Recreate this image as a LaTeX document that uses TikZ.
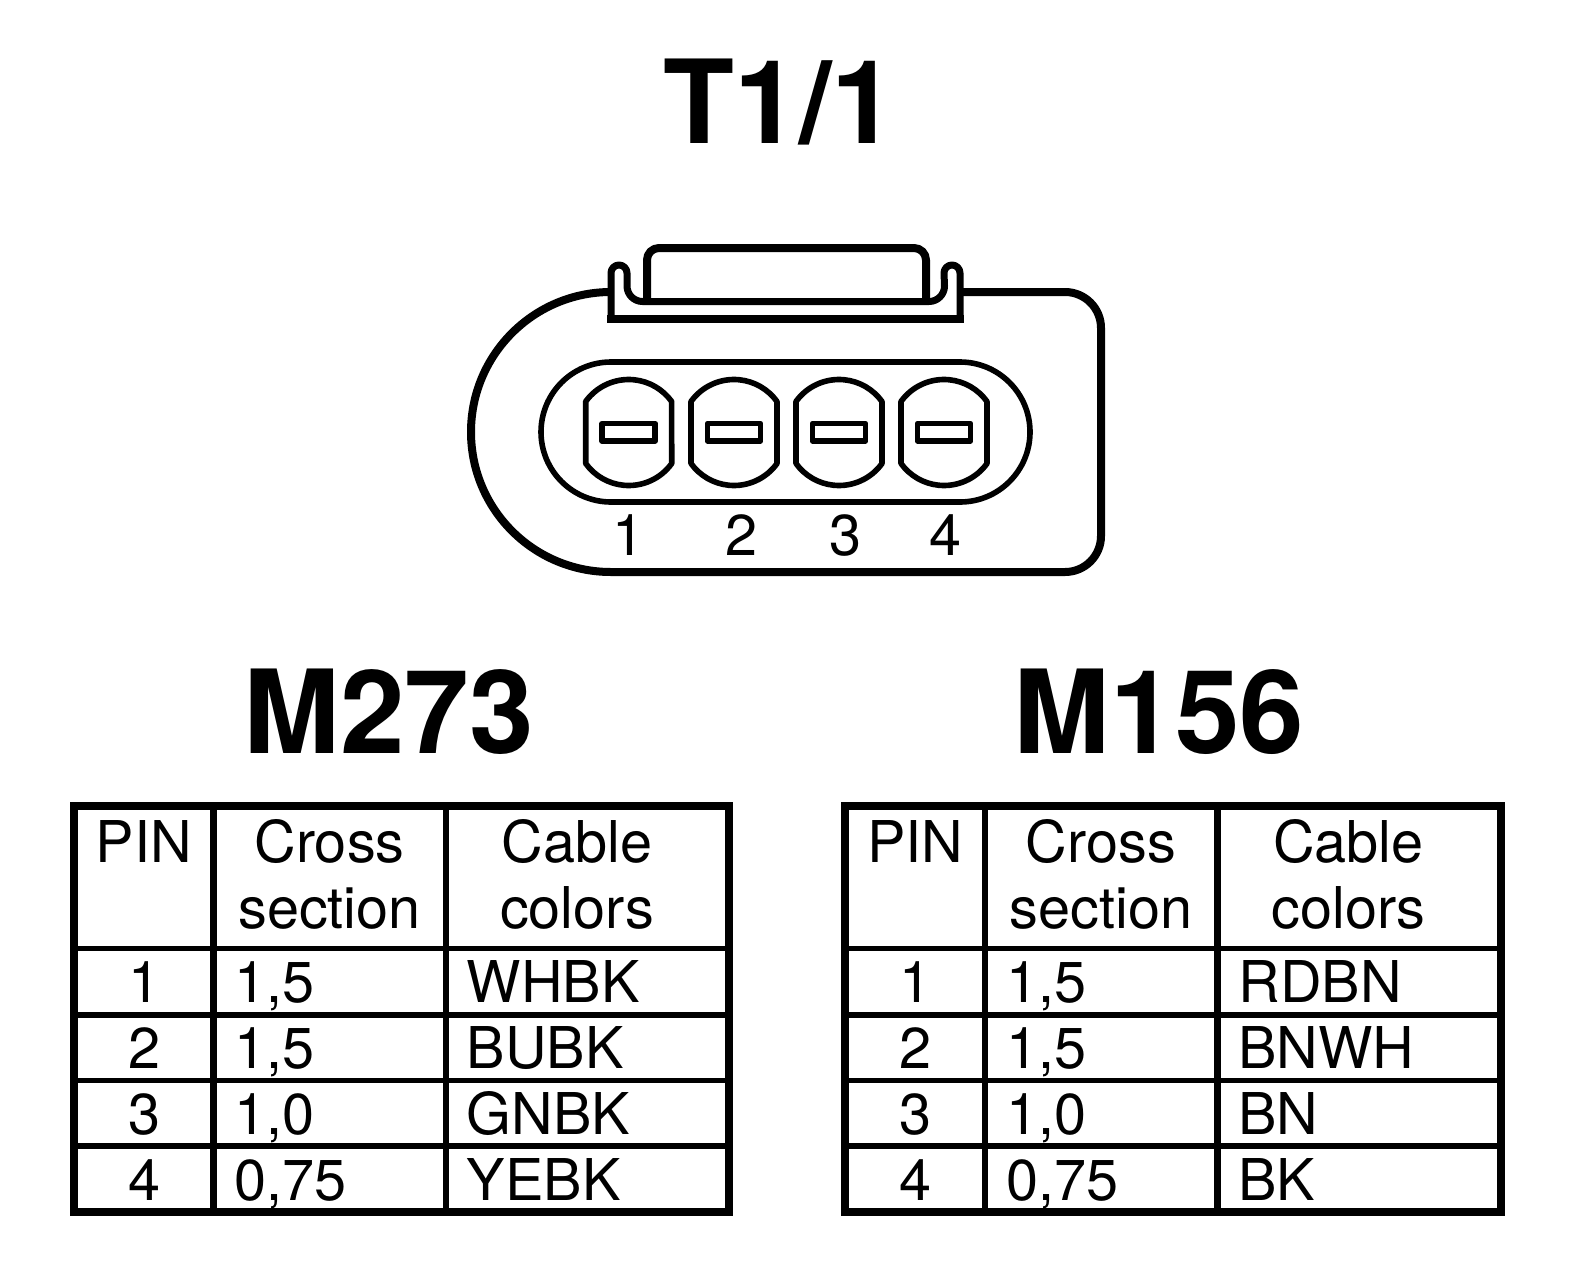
\documentclass[tikz,border=0pt]{standalone}
\usepackage{fontspec}
\setmainfont{TeX Gyre Heros}

% one table: name, shift and the four cable colors
\newcommand{\pintable}[6]{
	\begin{scope}[shift={(#2,0)}]
		%Frame
		\draw[frameline] (73.5, 806) rectangle (729, 1211.5);
		\draw[gridline] (213.5, 806) -- (213.5, 1211.5);
		\draw[gridline] (446, 806) -- (446, 1211.5);
		\foreach \ruley in {948.5, 1015, 1080.5, 1146}
			\draw[ruleline] (73.5, \ruley) -- (729, \ruley);
		
		%Head
		\node[tabletext] (#1pin) at (144, 862) {PIN};
		\node[tabletext] (#1cross) at (329.5, 862) {Cross};
		\node[tabletext] (#1section) at (329.5, 928) {section};
		\node[tabletext] (#1cable) at (577, 862) {Cable};
		\node[tabletext] (#1colors) at (577, 928) {colors};
		
		%Rows
		\foreach \rownum/\rowy/\size in {1/1002/{1,5}, 2/1068/{1,5}, 3/1134/{1,0}, 4/1200/{0,75}} {
			\node[tabletext] (#1num\rownum) at (144.5, \rowy) {\rownum};
			\node[tableleft] (#1size\rownum) at (234.5, \rowy) {\size};
		}
		\node[tableleft] (#1color1) at (466.5, 1002) {#3};
		\node[tableleft] (#1color2) at (466.5, 1068) {#4};
		\node[tableleft] (#1color3) at (466.5, 1134) {#5};
		\node[tableleft] (#1color4) at (466.5, 1200) {#6};
	\end{scope}
}

\begin{document}
\begin{tikzpicture}[x=0.5pt, y=-0.5pt, line join=round,
		frameline/.style={line width=4pt, line join=miter},
		gridline/.style={line width=3.2pt},
		ruleline/.style={line width=2.6pt},
		bodyline/.style={line width=4pt},
		thinline/.style={line width=2.8pt},
		tabletext/.style={anchor=base, inner sep=0pt, font=\fontsize{28.8}{30}\selectfont},
		tableleft/.style={tabletext, anchor=base west},
		bigtitle/.style={anchor=base, inner sep=0pt, font=\fontsize{58}{60}\selectfont\bfseries}]
	\useasboundingbox (0, 0) rectangle (1584, 1274);
	
	%Titles
	\node[bigtitle] (conntitle) at (780, 143) {T1/1};
	\node[bigtitle] (m273title) at (388.5, 753) {M273};
	\node[bigtitle] (m156title) at (1159, 753) {M156};
	
	%Housing
	\draw[bodyline] (960, 292) -- (1065, 292) arc[start angle=-90, end angle=0, radius=36]
		-- (1101, 536) arc[start angle=0, end angle=90, radius=36]
		-- (611, 572) arc[start angle=90, end angle=270, radius=140];
	
	%Latch
	\draw[line width=3.5pt] (611, 318.5) -- (611, 273) arc[start angle=180, end angle=360, radius=8]
		-- (627, 286) arc[start angle=180, end angle=90, radius=15.5]
		-- (929, 301.5) arc[start angle=90, end angle=0, radius=15.5]
		-- (944, 273) arc[start angle=180, end angle=360, radius=8]
		-- (960, 318.5);
	\draw[bodyline] (607, 318.5) -- (964, 318.5);
	\draw[bodyline] (647, 301.5) -- (647, 260) arc[start angle=180, end angle=270, radius=12]
		-- (914, 248) arc[start angle=-90, end angle=0, radius=12] -- (926, 301.5);
	
	%Socket
	\draw[thinline] (611, 362) -- (960, 362) arc[start angle=-90, end angle=90, radius=70]
		-- (611, 502) arc[start angle=90, end angle=270, radius=70] -- cycle;
	
	%Pins
	\foreach \pinnum/\pinx/\labelx in {1/628.7/629, 2/734/742, 3/839/845.5, 4/944/946} {
		\draw[thinline] (\pinx-43, 401.5) arc[start angle=215.8, end angle=324.2, radius=53]
			-- (\pinx+43, 463.5) arc[start angle=35.8, end angle=144.2, radius=53] -- cycle;
		\draw[thinline] (\pinx-26.5, 423.5) rectangle (\pinx+26.5, 441);
		\node[tabletext] (pinlabel\pinnum) at (\labelx, 555) {\pinnum};
	}
	
	%Tables
	\pintable{m273}{0}{WHBK}{BUBK}{GNBK}{YEBK}
	\pintable{m156}{771.5}{RDBN}{BNWH}{BN}{BK}
\end{tikzpicture}
\end{document}
